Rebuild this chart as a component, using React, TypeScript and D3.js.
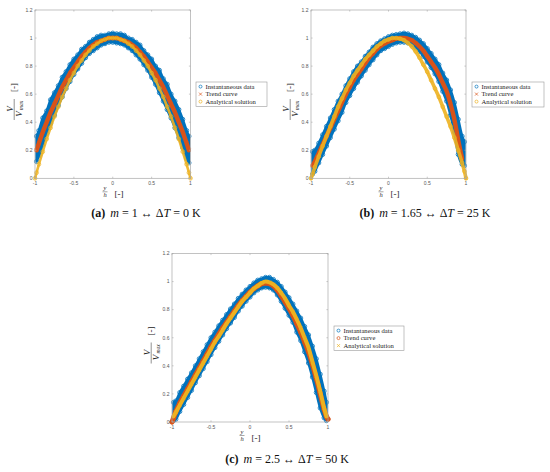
import React from "react";
import * as d3 from "d3";

type Arr = (number | null)[];

// Sample positions y/h shared by all panels
const xs = [-1, -0.98, -0.95, -0.9, -0.85, -0.8, -0.75, -0.7, -0.65, -0.6, -0.55, -0.5, -0.45, -0.4, -0.35, -0.3, -0.25, -0.2, -0.15, -0.1, -0.05, 0, 0.05, 0.1, 0.15, 0.2, 0.25, 0.3, 0.35, 0.4, 0.45, 0.5, 0.55, 0.6, 0.65, 0.7, 0.75, 0.8, 0.85, 0.9, 0.95, 0.98, 1];

// Panel (a): m = 1
const aAnalytic: Arr = [0, 0.04, 0.10, 0.19, 0.28, 0.36, 0.44, 0.51, 0.58, 0.64, 0.70, 0.75, 0.80, 0.84, 0.88, 0.91, 0.94, 0.96, 0.98, 0.99, 1.0, 1.0, 1.0, 0.99, 0.98, 0.96, 0.94, 0.91, 0.88, 0.84, 0.80, 0.75, 0.70, 0.64, 0.58, 0.51, 0.44, 0.36, 0.28, 0.19, 0.10, 0.04, 0];
const aTrend: Arr = [null, 0.20, 0.25, 0.33, 0.40, 0.47, 0.53, 0.59, 0.65, 0.70, 0.75, 0.79, 0.83, 0.87, 0.90, 0.93, 0.95, 0.97, 0.98, 0.99, 1.0, 1.0, 1.0, 0.99, 0.98, 0.97, 0.95, 0.93, 0.90, 0.87, 0.83, 0.79, 0.75, 0.70, 0.65, 0.59, 0.53, 0.47, 0.40, 0.33, 0.25, 0.20, null];
const aDataHi: Arr = [null, 0.30, 0.34, 0.43, 0.48, 0.56, 0.61, 0.66, 0.72, 0.76, 0.81, 0.85, 0.88, 0.92, 0.94, 0.97, 0.99, 1.01, 1.02, 1.02, 1.03, 1.035, 1.03, 1.03, 1.02, 1.0, 0.99, 0.97, 0.95, 0.91, 0.88, 0.85, 0.80, 0.77, 0.71, 0.67, 0.60, 0.55, 0.49, 0.42, 0.34, 0.30, null];
const aDataLo: Arr = [null, 0.12, 0.16, 0.24, 0.32, 0.39, 0.45, 0.52, 0.58, 0.64, 0.69, 0.74, 0.78, 0.82, 0.86, 0.89, 0.91, 0.93, 0.95, 0.96, 0.97, 0.97, 0.965, 0.96, 0.95, 0.93, 0.91, 0.88, 0.85, 0.81, 0.77, 0.72, 0.67, 0.61, 0.55, 0.49, 0.43, 0.36, 0.29, 0.22, 0.14, 0.11, null];

// Panel (b): m = 1.65
const bAnalytic: Arr = [0, 0.03, 0.08, 0.155, 0.23, 0.30, 0.37, 0.44, 0.51, 0.57, 0.63, 0.68, 0.73, 0.77, 0.81, 0.85, 0.88, 0.91, 0.94, 0.96, 0.98, 0.99, 1.0, 1.0, 0.995, 0.985, 0.965, 0.94, 0.905, 0.86, 0.81, 0.76, 0.70, 0.64, 0.58, 0.51, 0.44, 0.37, 0.29, 0.20, 0.11, 0.05, 0];
const bTrend: Arr = [null, 0.09, 0.12, 0.18, 0.24, 0.30, 0.36, 0.42, 0.48, 0.54, 0.60, 0.65, 0.70, 0.74, 0.78, 0.82, 0.86, 0.89, 0.92, 0.945, 0.96, 0.975, 0.985, 0.995, 1.0, 1.0, 0.995, 0.985, 0.965, 0.94, 0.91, 0.87, 0.83, 0.79, 0.74, 0.68, 0.62, 0.53, 0.42, 0.27, 0.14, null, null];
const bDataHi: Arr = [null, 0.19, 0.20, 0.25, 0.31, 0.37, 0.43, 0.49, 0.55, 0.60, 0.66, 0.71, 0.76, 0.80, 0.83, 0.87, 0.90, 0.935, 0.96, 0.98, 0.995, 1.01, 1.02, 1.025, 1.03, 1.035, 1.03, 1.02, 1.005, 0.985, 0.96, 0.925, 0.89, 0.85, 0.81, 0.75, 0.70, 0.63, 0.54, 0.42, 0.30, 0.26, null];
const bDataLo: Arr = [null, 0.03, 0.05, 0.11, 0.17, 0.23, 0.29, 0.35, 0.41, 0.47, 0.54, 0.59, 0.64, 0.685, 0.73, 0.77, 0.81, 0.845, 0.88, 0.91, 0.925, 0.94, 0.955, 0.965, 0.97, 0.97, 0.965, 0.955, 0.93, 0.905, 0.87, 0.83, 0.79, 0.745, 0.69, 0.62, 0.55, 0.45, 0.33, 0.17, 0.10, 0.09, null];

// Panel (c): m = 2.5
const cAnalytic: Arr = [null, 0.04, 0.07, 0.12, 0.17, 0.22, 0.27, 0.32, 0.37, 0.42, 0.47, 0.52, 0.57, 0.61, 0.655, 0.70, 0.74, 0.78, 0.82, 0.86, 0.89, 0.92, 0.95, 0.97, 0.99, 1.0, 0.995, 0.98, 0.955, 0.92, 0.88, 0.83, 0.785, 0.73, 0.67, 0.60, 0.53, 0.43, 0.33, 0.22, 0.10, 0.04, null];
const cTrend: Arr = [0.0, 0.03, 0.075, 0.135, 0.185, 0.235, 0.285, 0.335, 0.385, 0.435, 0.485, 0.535, 0.58, 0.625, 0.67, 0.71, 0.75, 0.79, 0.83, 0.865, 0.895, 0.925, 0.95, 0.97, 0.985, 0.99, 0.985, 0.97, 0.94, 0.90, 0.855, 0.81, 0.76, 0.70, 0.64, 0.57, 0.50, 0.41, 0.31, 0.20, 0.09, 0.04, 0.02];
const cDataHi: Arr = [null, 0.14, 0.15, 0.21, 0.255, 0.305, 0.35, 0.40, 0.45, 0.50, 0.55, 0.60, 0.64, 0.685, 0.725, 0.765, 0.805, 0.84, 0.88, 0.91, 0.94, 0.965, 0.99, 1.01, 1.02, 1.03, 1.03, 1.015, 0.995, 0.965, 0.925, 0.885, 0.84, 0.79, 0.74, 0.68, 0.62, 0.54, 0.45, 0.34, 0.22, 0.14, null];
const cDataLo: Arr = [null, 0.01, 0.02, 0.075, 0.125, 0.175, 0.225, 0.28, 0.33, 0.38, 0.43, 0.48, 0.53, 0.575, 0.62, 0.665, 0.705, 0.745, 0.79, 0.825, 0.86, 0.89, 0.92, 0.94, 0.955, 0.96, 0.955, 0.94, 0.905, 0.86, 0.81, 0.76, 0.71, 0.64, 0.58, 0.50, 0.42, 0.32, 0.21, 0.10, 0.03, 0.01, null];

const X_TICKS = [-1, -0.5, 0, 0.5, 1];
const X_TICK_LABELS = ["-1", "-0.5", "0", "0.5", "1"];
const Y_TICKS = [0, 0.2, 0.4, 0.6, 0.8, 1, 1.2];
const Y_TICK_LABELS = ["0", "0.2", "0.4", "0.6", "0.8", "1", "1.2"];
const LEGEND_LABELS = ["Instantaneous data", "Trend curve", "Analytical solution"];
const CAPTION_TAGS = ["(a)", "(b)", "(c)"];
const M_VALUES = ["1", "1.65", "2.5"];
const DT_VALUES = ["0", "25", "50"];

const BLUE = "#0072BD";
const RED = "#D95319";
const YELLOW = "#EDB120";
const SERIF = "'Liberation Serif', 'DejaVu Serif', serif";
const SANS = "'Liberation Sans', Arial, sans-serif";

type MType = "o" | "x";

function Marker({ type, cx, cy, color, r, sw }: { type: MType; cx: number; cy: number; color: string; r: number; sw: number }) {
  if (type === "o") return <circle cx={cx} cy={cy} r={r} fill="none" stroke={color} strokeWidth={sw} />;
  return (
    <path
      d={`M${cx - r},${cy - r}L${cx + r},${cy + r}M${cx - r},${cy + r}L${cx + r},${cy - r}`}
      stroke={color}
      strokeWidth={sw}
      fill="none"
    />
  );
}

interface PanelProps {
  left: number;
  top: number;
  w: number;
  h: number;
  hi: Arr;
  lo: Arr;
  trend: Arr;
  analytic: Arr;
  trendMarker: MType;
  anMarker: MType;
  anWidth: number;
  legend: { x: number; y: number; w: number; h: number };
}

function Panel(p: PanelProps) {
  const x = d3.scaleLinear().domain([-1, 1]).range([p.left, p.left + p.w]);
  const y = d3.scaleLinear().domain([0, 1.2]).range([p.top + p.h, p.top]);
  const idx = d3.range(xs.length);
  const band = d3
    .area<number>()
    .defined((i) => p.hi[i] != null && p.lo[i] != null)
    .x((i) => x(xs[i]))
    .y0((i) => y(p.lo[i] as number))
    .y1((i) => y(p.hi[i] as number))
    .curve(d3.curveMonotoneX);
  const line = (arr: Arr) =>
    d3
      .line<number>()
      .defined((i) => arr[i] != null)
      .x((i) => x(xs[i]))
      .y((i) => y(arr[i] as number))
      .curve(d3.curveMonotoneX)(idx) || "";
  const bottom = p.top + p.h;
  const right = p.left + p.w;
  const pts = (arr: Arr) => idx.filter((i) => arr[i] != null);
  const legendMarkers: MType[] = ["o", p.trendMarker, p.anMarker];
  const legendColors = [BLUE, RED, YELLOW];
  const isC = p.anMarker === "x";

  return (
    <g>
      {/* instantaneous data */}
      <path d={band(idx) || ""} fill={BLUE} stroke={BLUE} strokeWidth={2.6} strokeLinejoin="round" />
      {pts(p.hi).map((i) => (
        <circle key={"h" + i} cx={x(xs[i])} cy={y(p.hi[i] as number)} r={2.1} fill="none" stroke={BLUE} strokeWidth={0.8} />
      ))}
      {pts(p.lo).map((i) => (
        <circle key={"l" + i} cx={x(xs[i])} cy={y(p.lo[i] as number)} r={2.1} fill="none" stroke={BLUE} strokeWidth={0.8} />
      ))}
      {/* trend */}
      <path d={line(p.trend)} fill="none" stroke={RED} strokeWidth={isC ? 5 : 4.4} strokeLinecap="round" />
      {pts(p.trend).map((i) => (
        <Marker key={"t" + i} type={p.trendMarker} cx={x(xs[i])} cy={y(p.trend[i] as number)} color={RED} r={isC ? 2.2 : 1.6} sw={0.7} />
      ))}
      {/* analytical */}
      <path d={line(p.analytic)} fill="none" stroke={YELLOW} strokeWidth={p.anWidth} strokeOpacity={isC ? 1 : 0.9} strokeLinecap="round" />
      {pts(p.analytic).map((i) => (
        <Marker key={"a" + i} type={p.anMarker} cx={x(xs[i])} cy={y(p.analytic[i] as number)} color={YELLOW} r={isC ? 1.6 : 1.9} sw={0.7} />
      ))}

      {/* axes box */}
      <rect x={p.left} y={p.top} width={p.w} height={p.h} fill="none" stroke="#a8a8a8" strokeWidth={0.7} />
      {X_TICKS.map((t, k) => (
        <g key={"xt" + k}>
          <line x1={x(t)} x2={x(t)} y1={bottom} y2={bottom - 1.6} stroke="#a8a8a8" strokeWidth={0.6} />
          <line x1={x(t)} x2={x(t)} y1={p.top} y2={p.top + 1.6} stroke="#a8a8a8" strokeWidth={0.6} />
          <text x={x(t)} y={bottom + 6.5} fontSize={5} fill="#555" textAnchor="middle" fontFamily={SANS}>
            {X_TICK_LABELS[k]}
          </text>
        </g>
      ))}
      {Y_TICKS.map((t, k) => (
        <g key={"yt" + k}>
          <line x1={p.left} x2={p.left + 1.6} y1={y(t)} y2={y(t)} stroke="#a8a8a8" strokeWidth={0.6} />
          <line x1={right} x2={right - 1.6} y1={y(t)} y2={y(t)} stroke="#a8a8a8" strokeWidth={0.6} />
          <text x={p.left - 2.5} y={y(t) + 1.8} fontSize={5} fill="#555" textAnchor="end" fontFamily={SANS}>
            {Y_TICK_LABELS[k]}
          </text>
        </g>
      ))}

      {/* y label */}
      <g transform={`translate(${p.left - 21},${p.top + 90}) rotate(-90)`} fontFamily={SERIF} fill="#222">
        <text x={-9} y={-1.2} fontSize={9} fontStyle="italic" textAnchor="middle">V</text>
        <line x1={-20} x2={1} y1={0.2} y2={0.2} stroke="#222" strokeWidth={0.5} />
        <text x={-14} y={7.6} fontSize={9} fontStyle="italic" textAnchor="middle">V</text>
        <text x={-5.5} y={8.8} fontSize={5.5} fontStyle="italic" textAnchor="middle">max</text>
        <text x={12.5} y={3.2} fontSize={9} textAnchor="middle">[-]</text>
      </g>
      {/* x label */}
      <g fontFamily={SERIF} fill="#222">
        <text x={p.left + 70} y={bottom + 12} fontSize={6.5} fontStyle="italic" textAnchor="middle">y</text>
        <line x1={p.left + 67.5} x2={p.left + 72.5} y1={bottom + 13.5} y2={bottom + 13.5} stroke="#222" strokeWidth={0.4} />
        <text x={p.left + 70} y={bottom + 19} fontSize={6.5} fontStyle="italic" textAnchor="middle">h</text>
        <text x={p.left + 84} y={bottom + 18.5} fontSize={9} textAnchor="middle">[-]</text>
      </g>

      {/* legend */}
      <rect x={p.legend.x} y={p.legend.y} width={p.legend.w} height={p.legend.h} fill="#fff" stroke="#999" strokeWidth={0.6} />
      {LEGEND_LABELS.map((lab, k) => {
        const cy = p.legend.y + 4.6 + k * 7.5;
        return (
          <g key={"lg" + k}>
            <Marker type={legendMarkers[k]} cx={p.legend.x + 4.5} cy={cy} color={legendColors[k]} r={1.5} sw={0.7} />
            <text x={p.legend.x + 9.5} y={cy + 2.1} fontSize={6.6} fill="#222" fontFamily={SERIF}>
              {lab}
            </text>
          </g>
        );
      })}
    </g>
  );
}

function Caption({ cx, cy, k }: { cx: number; cy: number; k: number }) {
  return (
    <text x={cx} y={cy} fontSize={12} textAnchor="middle" fontFamily={SERIF} fill="#111">
      <tspan fontWeight="bold">{CAPTION_TAGS[k]}</tspan>
      <tspan dx={5} fontStyle="italic">m</tspan>
      <tspan>{" = " + M_VALUES[k] + " \u2194 \u0394"}</tspan>
      <tspan fontStyle="italic">T</tspan>
      <tspan>{" = " + DT_VALUES[k] + " K"}</tspan>
    </text>
  );
}

export default function App() {
  return (
    <svg width={550} height={472} viewBox="0 0 550 472" style={{ position: "absolute", left: 0, top: 0, background: "#fff" }}>
      <rect x={0} y={0} width={550} height={472} fill="#fff" />
      <Panel left={35} top={10} w={155.5} h={168.3} hi={aDataHi} lo={aDataLo} trend={aTrend} analytic={aAnalytic} trendMarker="x" anMarker="o" anWidth={2.6} legend={{ x: 196, y: 82, w: 71, h: 24.5 }} />
      <Panel left={311} top={10} w={155} h={168.3} hi={bDataHi} lo={bDataLo} trend={bTrend} analytic={bAnalytic} trendMarker="x" anMarker="o" anWidth={3.6} legend={{ x: 472, y: 82, w: 72, h: 25 }} />
      <Panel left={172} top={253.5} w={156} h={168.5} hi={cDataHi} lo={cDataLo} trend={cTrend} analytic={cAnalytic} trendMarker="o" anMarker="x" anWidth={4} legend={{ x: 334, y: 326, w: 70, h: 24.5 }} />
      <Caption cx={146} cy={217} k={0} />
      <Caption cx={425} cy={217} k={1} />
      <Caption cx={287} cy={463} k={2} />
    </svg>
  );
}
